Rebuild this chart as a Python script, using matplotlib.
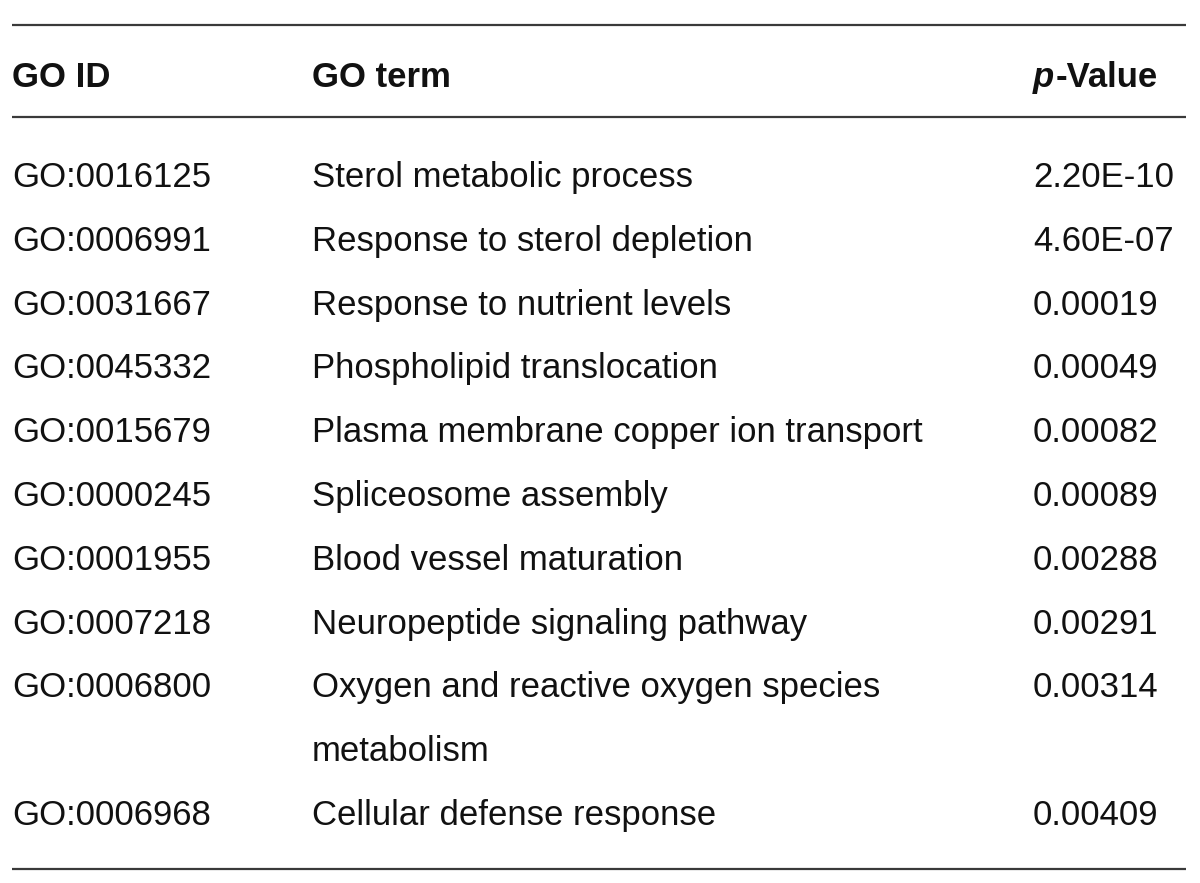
import matplotlib as mpl
mpl.use('Agg')
import matplotlib.pyplot as plt

# table contents
go_ids = ['GO:0016125', 'GO:0006991', 'GO:0031667', 'GO:0045332',
          'GO:0015679', 'GO:0000245', 'GO:0001955', 'GO:0007218',
          'GO:0006800', 'GO:0006968']
go_terms = ['Sterol metabolic process',
            'Response to sterol depletion',
            'Response to nutrient levels',
            'Phospholipid translocation',
            'Plasma membrane copper ion transport',
            'Spliceosome assembly',
            'Blood vessel maturation',
            'Neuropeptide signaling pathway',
            'Oxygen and reactive oxygen species\nmetabolism',
            'Cellular defense response']
p_values = ['2.20E-10', '4.60E-07', '0.00019', '0.00049', '0.00082',
            '0.00089', '0.00288', '0.00291', '0.00314', '0.00409']

W, H = 1200, 883
FONT = 'Liberation Sans'
FS = 25
RULE_COLOR = '#3a3a3a'
TEXT_COLOR = '#111111'

col_x = [12, 312, 1033]
rule_x = (12, 1186)
header_y = 87      # baselines, in pixels from the top
first_row_y = 187
line_step = 63.8

fig = plt.figure(figsize=(W / 100., H / 100.), dpi=100)
ax = fig.add_axes([0, 0, 1, 1])
ax.set_xlim(0, W)
ax.set_ylim(H, 0)
ax.axis('off')

# rules
ax.hlines([25, 117, 869], rule_x[0], rule_x[1], colors=RULE_COLOR, lw=1.6)

# header
hdr = dict(fontsize=FS, family=FONT, weight='bold', color=TEXT_COLOR,
           va='baseline', ha='left')
ax.text(col_x[0], header_y, 'GO ID', **hdr)
ax.text(col_x[1], header_y, 'GO term', **hdr)
p_txt = ax.text(col_x[2], header_y, 'p', style='italic', **hdr)
fig.canvas.draw()
bb = p_txt.get_window_extent(renderer=fig.canvas.get_renderer())
ax.text(col_x[2] + bb.width + 1, header_y, '-Value', **hdr)

# body rows
body = dict(fontsize=FS, family=FONT, color=TEXT_COLOR,
            va='baseline', ha='left')
line_no = 0
for gid, term, pv in zip(go_ids, go_terms, p_values):
    y = first_row_y + line_no * line_step
    ax.text(col_x[0], y, gid, **body)
    ax.text(col_x[2], y, pv, **body)
    for k, part in enumerate(term.split('\n')):
        ax.text(col_x[1], y + k * line_step, part, **body)
    line_no += len(term.split('\n'))

fig.savefig('out.png', dpi=100, facecolor='white')
